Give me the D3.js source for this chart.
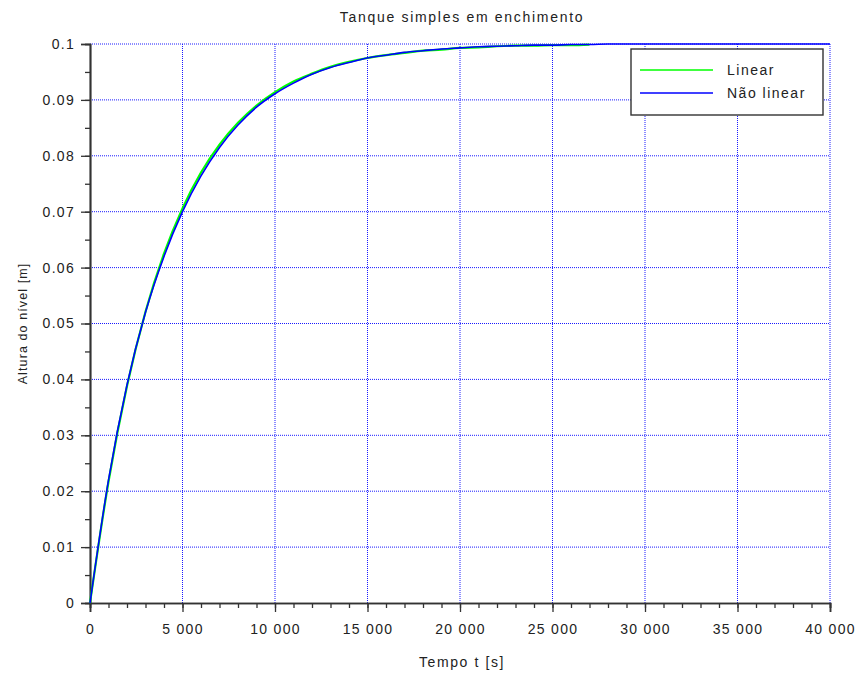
<!DOCTYPE html>
<html>
<head>
<meta charset="utf-8">
<script src="https://cdn.jsdelivr.net/npm/d3@7"></script>
<style>
  body { margin: 0; background: #fff; }
  svg { font-family: "Liberation Sans", "DejaVu Sans", sans-serif; }
  .grid line { stroke: #1a1aff; stroke-width: 1; stroke-dasharray: 1,1; }
</style>
</head>
<body>
<div id="chart"></div>
<script>
// Data //
const title = 'Tanque simples em enchimento'
const xLabel = 'Tempo t [s]'
const yLabel = 'Altura do nível [m]'
const seriesNames = ['Linear', 'Não linear']

const xTicks = [0, 5000, 10000, 15000, 20000, 25000, 30000, 35000, 40000]
const yTicks = [0, 0.01, 0.02, 0.03, 0.04, 0.05, 0.06, 0.07, 0.08, 0.09, 0.1]

// time in seconds
const tLinear = [0, 1000, 2000, 3000, 4000, 5000, 6000, 7000, 8000, 9000, 10000,
    11000, 12000, 13000, 14000, 15000, 16000, 17000, 18000, 19000, 20000,
    21000, 22000, 23000, 24000, 25000, 26000, 27000]
const hLinear = [0, 0.0217, 0.0388, 0.0521, 0.0625, 0.0706, 0.0770, 0.0820, 0.0859, 0.0890, 0.0914,
    0.0933, 0.0947, 0.0959, 0.0968, 0.0975, 0.0980, 0.0984, 0.0988, 0.0990, 0.0993,
    0.0994, 0.0996, 0.0997, 0.0997, 0.0998, 0.0998, 0.0999]

const tNonLinear = [0, 1000, 2000, 3000, 4000, 5000, 6000, 7000, 8000, 9000, 10000,
    11000, 12000, 13000, 14000, 15000, 16000, 17000, 18000, 19000, 20000,
    21000, 22000, 23000, 24000, 25000, 26000, 27000, 28000, 30000, 32000,
    34000, 36000, 38000, 40000]
const hNonLinear = [0, 0.0220, 0.0390, 0.0520, 0.0620, 0.0700, 0.0764, 0.0815, 0.0855, 0.0887, 0.0911,
    0.0930, 0.0946, 0.0958, 0.0967, 0.0975, 0.0980, 0.0985, 0.0988, 0.0991, 0.0993,
    0.0995, 0.0996, 0.0997, 0.0998, 0.0998, 0.0999, 0.0999, 0.1000, 0.1000, 0.1000,
    0.1000, 0.1000, 0.1000, 0.1000]

const colors = ['#00ff00', '#0000ff']

// Layout //
const width = 863
const height = 674
const margin = { top: 44, right: 33, bottom: 71, left: 90 }

const svg = d3.select('#chart').append('svg')
    .attr('width', width)
    .attr('height', height)

const x = d3.scaleLinear().domain([0, 40000]).range([margin.left, width - margin.right])
const y = d3.scaleLinear().domain([0, 0.1]).range([height - margin.bottom, margin.top])

const fmtX = d3.formatLocale({ decimal: '.', thousands: ' ', grouping: [3], currency: ['', ''] }).format(',d')
const fmtY = d => d === 0 ? '0' : d3.format('.2~f')(d)

// Grid //
const grid = svg.append('g').attr('class', 'grid')
grid.selectAll('.gx').data(xTicks.slice(1)).enter().append('line')
    .attr('x1', d => x(d)).attr('x2', d => x(d))
    .attr('y1', y(0)).attr('y2', y(0.1))
grid.selectAll('.gy').data(yTicks.slice(1)).enter().append('line')
    .attr('x1', x(0)).attr('x2', x(40000))
    .attr('y1', d => y(d)).attr('y2', d => y(d))

// Axes //
const xMinor = d3.range(0, 40001, 1000)
const yMinor = d3.range(0, 0.1001, 0.005)

const xAxis = svg.append('g')
    .attr('transform', `translate(0,${y(0)})`)
xAxis.call(d3.axisBottom(x).tickValues(xMinor).tickSize(5).tickFormat(''))
xAxis.append('g').call(d3.axisBottom(x).tickValues(xTicks).tickSize(9).tickFormat(fmtX))

const yAxis = svg.append('g')
    .attr('transform', `translate(${x(0)},0)`)
yAxis.call(d3.axisLeft(y).tickValues(yMinor).tickSize(5).tickFormat(''))
yAxis.append('g').call(d3.axisLeft(y).tickValues(yTicks).tickSize(9).tickFormat(fmtY).tickPadding(6))

svg.selectAll('.domain').attr('stroke', '#333').attr('stroke-width', 1.7)
svg.selectAll('.tick line').attr('stroke', '#333').attr('stroke-width', 1.3)
svg.selectAll('.tick text')
    .attr('font-size', 14)
    .attr('letter-spacing', 1.3)
    .attr('fill', '#222')
xAxis.selectAll('.tick text').attr('y', 21)

// Lines //
const line = d3.line()
    .x(d => x(d[0]))
    .y(d => y(d[1]))
    .curve(d3.curveMonotoneX)

svg.append('path')
    .datum(d3.zip(tLinear, hLinear))
    .attr('fill', 'none')
    .attr('stroke', colors[0])
    .attr('stroke-width', 2.2)
    .attr('d', line)

svg.append('path')
    .datum(d3.zip(tNonLinear, hNonLinear))
    .attr('fill', 'none')
    .attr('stroke', colors[1])
    .attr('stroke-width', 1.6)
    .attr('d', line)

// Texts //
svg.append('text')
    .attr('x', 462).attr('y', 22)
    .attr('text-anchor', 'middle')
    .attr('font-size', 14)
    .attr('letter-spacing', 1.7)
    .attr('fill', '#222')
    .text(title)

svg.append('text')
    .attr('x', 462).attr('y', 667)
    .attr('text-anchor', 'middle')
    .attr('font-size', 14)
    .attr('letter-spacing', 1.6)
    .attr('fill', '#222')
    .text(xLabel)

svg.append('text')
    .attr('transform', `translate(27,${(y(0) + y(0.1)) / 2}) rotate(-90)`)
    .attr('text-anchor', 'middle')
    .attr('font-size', 12.5)
    .attr('letter-spacing', 1.1)
    .attr('fill', '#222')
    .text(yLabel)

// Legend //
const legend = svg.append('g').attr('transform', 'translate(631,49)')
legend.append('rect')
    .attr('width', 192).attr('height', 66)
    .attr('fill', '#fff')
    .attr('stroke', '#333')
    .attr('stroke-width', 1.4)

seriesNames.forEach((name, i) => {
    const ly = 21 + i * 23
    legend.append('line')
        .attr('x1', 9).attr('x2', 82)
        .attr('y1', ly).attr('y2', ly)
        .attr('stroke', colors[i])
        .attr('stroke-width', 1.5)
    legend.append('text')
        .attr('x', 96).attr('y', ly + 5)
        .attr('font-size', 14)
        .attr('letter-spacing', 1.5)
        .attr('fill', '#222')
        .text(name)
})
</script>
</body>
</html>
